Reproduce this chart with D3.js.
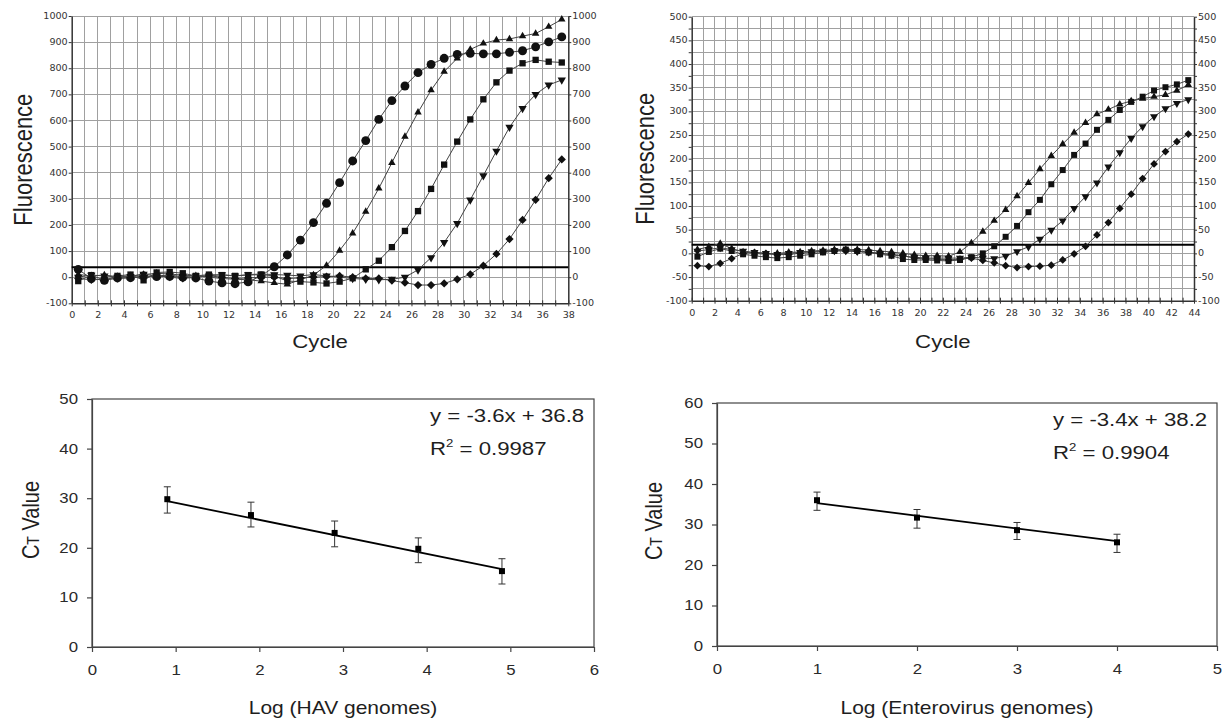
<!DOCTYPE html>
<html>
<head>
<meta charset="utf-8">
<script src="https://cdn.jsdelivr.net/npm/d3@7"></script>
<style>
  html, body { margin: 0; padding: 0; background: #fff; }
  svg { display: block; }
</style>
</head>
<body>
<svg id="fig" width="1223" height="719"></svg>
<script>
const SX = 1.2; // lettering in the source figure is stretched horizontally

// ---- panel A: HAV amplification curves ----
const cyclesA = d3.range(1, 39);
const havCircle = [30, -5, -12, -3, -2, 5, 2, 3, 0, -3, -15, -22, -25, -18, 5,
  40, 85, 142, 209, 283, 362, 445, 523, 604, 676, 732, 783, 815, 838, 853, 857, 855, 855, 861, 867, 882, 901, 920];
const havTriUp = [10, 5, 8, 2, 5, 10, 15, 12, 8, 5, 0, -5, -8, -10, -15, -22, -27, -10, 8,
  45, 102, 168, 251, 340, 438, 538, 631, 716, 787, 838, 872, 895, 908, 912, 923, 933, 959, 987];
const havSquare = [-15, 8, -12, 5, 10, -12, 18, 20, 15, 5, 10, 8, 5, 8, 10, 5, -15, -17, -20, -24, -17, -4,
  30, 63, 115, 177, 253, 338, 431, 519, 604, 681, 746, 791, 819, 832, 825, 822];
const havTriDown = [0, 8, 5, 0, 3, 12, 5, 8, 2, 5, 5, 10, 5, 10, 12, 10, 8, 5, 10, 5, 0, -5, -8, -10, -8,
  0, 28, 75, 133, 206, 296, 389, 483, 574, 646, 700, 736, 755];
const havDiamond = [-5, -10, -8, -5, -2, 0, 5, 0, -5, 0, 5, 0, -5, -3, 0, 0, -5, -3, 0, 2, 5, 0, -5, -5,
  -13, -21, -30, -30, -24, -8, 11, 44, 89, 146, 219, 296, 379, 451];
const ticksA = [-100, 0, 100, 200, 300, 400, 500, 600, 700, 800, 900, 1000];
const thresholdA = 38;

// ---- panel B: enterovirus amplification curves ----
const cyclesB = d3.range(1, 45);
const evTriUp = [8, 14, 21, 10, 3, 0, -2, 0, 2, 3, 5, 6, 8, 8, 8, 7, 5, 3, 0, -3, -5, -5, -6, 3,
  22, 46, 69, 92, 121, 149, 178, 206, 231, 255, 276, 294, 304, 315, 322, 327, 331, 335, 344, 356];
const evSquare = [-7, 3, 10, 5, -2, -5, -8, -10, -8, -5, -2, 2, 5, 8, 5, 2, -2, -5, -12, -14, -14, -15, -16, -14, -8,
  0, 15, 35, 58, 87, 113, 146, 176, 208, 232, 261, 282, 303, 320, 331, 344, 351, 357, 366];
const evTriDown = [5, 8, 12, 8, 5, 2, 0, -2, 0, 2, 4, 5, 6, 6, 4, 3, 0, -3, -6, -8, -10, -10, -10, -10, -8, -10,
  -11, -6, 4, 14, 30, 49, 69, 95, 120, 149, 183, 213, 243, 268, 289, 306, 317, 325];
const evDiamond = [-26, -28, -21, -11, 0, 2, 0, -3, -2, 0, 2, 4, 5, 5, 4, 2, 0, -2, -5, -10, -12, -12, -14, -12, -10, -15,
  -20, -26, -30, -28, -27, -25, -14, -1, 15, 39, 65, 95, 125, 158, 189, 215, 236, 252];
const ticksB = [-100, -75, -50, -25, 0, 25, 50, 75, 100, 125, 150, 175, 200, 225, 250, 275, 300, 325, 350, 375, 400, 425, 450, 475, 500];
const thresholdB = 18;

// ---- panel C: HAV standard curve ----
const logHav = [0.9, 1.9, 2.9, 3.9, 4.9];
const ctHav = [29.8, 26.6, 23.0, 19.8, 15.3];
const ctHavHi = [32.3, 29.2, 25.4, 22.0, 17.8];
const ctHavLo = [27.0, 24.2, 20.2, 17.0, 12.7];
const fitHav = [[0.9, 29.4], [4.9, 15.7]];
const eqHav = 'y = -3.6x + 36.8';
const r2Hav = '0.9987';

// ---- panel D: enterovirus standard curve ----
const logEv = [1, 2, 3, 4];
const ctEv = [36.0, 31.7, 28.6, 25.6];
const ctEvHi = [38.0, 33.7, 30.5, 27.6];
const ctEvLo = [33.5, 29.1, 26.3, 23.1];
const fitEv = [[1, 35.3], [4, 25.9]];
const eqEv = 'y = -3.4x + 38.2';
const r2Ev = '0.9904';

const svg = d3.select('#fig');

const MARKS = {
  circle:  { type: d3.symbolCircle,   rot: 0 },
  triUp:   { type: d3.symbolTriangle, rot: 0 },
  triDown: { type: d3.symbolTriangle, rot: 180 },
  square:  { type: d3.symbolSquare,   rot: 0 },
  diamond: { type: d3.symbolSquare,   rot: 45 },
};

function addLabel(parent, x, y, size, anchor, rotate) {
  return parent.append('text')
    .attr('transform', `translate(${x},${y}) scale(${SX},1)` + (rotate ? ' rotate(-90)' : ''))
    .attr('text-anchor', anchor)
    .attr('font-family', 'Liberation Sans, Arial, sans-serif')
    .attr('font-size', size)
    .attr('fill', '#1e1e1e');
}

function drawAmplification(p) {
  const n = p.cycles.length;
  const g = svg.append('g');
  const x = d3.scaleLinear().domain([0, n]).range([p.left, p.right]);
  const band = d3.scaleBand().domain(p.cycles).range([p.left, p.right]);
  const y = d3.scaleLinear().domain(d3.extent(p.yTicks)).range([p.bottom, p.top]);
  const cx = i => band(p.cycles[i]) + band.bandwidth() / 2;

  // grid
  const grid = g.append('g').attr('stroke', '#a0a0a0').attr('shape-rendering', 'crispEdges');
  grid.selectAll('line.v').data(d3.range(1, n)).join('line').attr('class', 'v')
    .attr('x1', x).attr('x2', x).attr('y1', p.top).attr('y2', p.bottom);
  grid.selectAll('line.h').data(p.yTicks.slice(1)).join('line').attr('class', 'h')
    .attr('x1', p.left).attr('x2', p.right).attr('y1', y).attr('y2', y);

  const fmt = d => d % p.labelStep ? '' : d;
  const tickFont = a => {
    a.attr('font-family', 'DejaVu Sans, Verdana, sans-serif').attr('font-size', 8);
    a.select('.domain').attr('stroke', '#333').attr('stroke-width', 1.5);
    a.selectAll('.tick line').attr('stroke', '#333');
    a.selectAll('.tick text').attr('fill', '#333');
  };

  const xa = g.append('g').attr('transform', `translate(0,${p.bottom})`)
    .call(d3.axisBottom(x).tickValues(d3.range(0, n + 1)).tickFormat(d => d % 2 ? '' : d)
      .tickSize(3).tickSizeOuter(0));
  xa.selectAll('.tick line').attr('y1', -3);
  xa.selectAll('.tick text').attr('y', 9.5).attr('transform', `scale(${SX},1)`);
  tickFont(xa);

  const yl = g.append('g').attr('transform', `translate(${p.left},0)`)
    .call(d3.axisLeft(y).tickValues(p.yTicks).tickFormat(fmt).tickSize(3).tickSizeOuter(0));
  yl.selectAll('.tick text').attr('x', -4 / SX).attr('transform', `scale(${SX},1)`);
  tickFont(yl);

  const yr = g.append('g').attr('transform', `translate(${p.right},0)`)
    .call(d3.axisRight(y).tickValues(p.yTicks).tickFormat(fmt).tickSize(3).tickSizeOuter(0));
  yr.selectAll('.tick text').attr('x', 4 / SX).attr('transform', `scale(${SX},1)`);
  tickFont(yr);

  // threshold
  g.append('line')
    .attr('x1', p.left).attr('x2', p.right)
    .attr('y1', y(p.threshold)).attr('y2', y(p.threshold))
    .attr('stroke', '#000').attr('stroke-width', 2);

  const line = d3.line().x((d, i) => cx(i)).y(d => y(d));
  for (const s of p.series) {
    const sg = g.append('g');
    sg.append('path').attr('d', line(s.values))
      .attr('fill', 'none').attr('stroke', '#444').attr('stroke-width', 1);
    const m = MARKS[s.mark];
    sg.selectAll('path.m').data(s.values).join('path').attr('class', 'm')
      .attr('d', d3.symbol().type(m.type).size(s.size))
      .attr('transform', (d, i) => `translate(${cx(i)},${y(d)}) rotate(${m.rot})`)
      .attr('fill', '#111');
  }

  addLabel(g, p.ylabX, (p.top + p.bottom) / 2, 22, 'middle', true).attr('dy', '0.35em').text('Fluorescence');
  addLabel(g, (p.left + p.right) / 2, 348, 18.5, 'middle').text('Cycle');
}

function drawCalibration(p) {
  const g = svg.append('g');
  const x = d3.scaleLinear().domain(p.xDomain).range([p.left, p.right]);
  const y = d3.scaleLinear().domain(p.yDomain).range([p.bottom, p.top]);

  g.append('rect')
    .attr('x', p.left).attr('y', p.top)
    .attr('width', p.right - p.left).attr('height', p.bottom - p.top)
    .attr('fill', 'none').attr('stroke', '#444').attr('stroke-width', 1.2);

  const style = a => {
    a.attr('font-family', 'Liberation Sans, Arial, sans-serif').attr('font-size', 14);
    a.select('.domain').attr('stroke', '#444').attr('stroke-width', 1.2);
    a.selectAll('.tick line').attr('stroke', '#444').attr('stroke-width', 1.2);
    a.selectAll('.tick text').attr('fill', '#2a2a2a');
  };
  const xa = g.append('g').attr('transform', `translate(0,${p.bottom})`)
    .call(d3.axisBottom(x).ticks(p.xDomain[1]).tickFormat(d3.format('d')).tickSize(5).tickPadding(13).tickSizeOuter(0));
  xa.selectAll('.tick text').attr('transform', `scale(${SX},1)`);
  style(xa);
  const ya = g.append('g').attr('transform', `translate(${p.left},0)`)
    .call(d3.axisLeft(y).tickValues(p.yTicks).tickSize(5).tickSizeOuter(0));
  ya.selectAll('.tick text').attr('x', -14 / SX).attr('transform', `scale(${SX},1)`);
  style(ya);

  // regression line
  g.append('line')
    .attr('x1', x(p.fit[0][0])).attr('y1', y(p.fit[0][1]))
    .attr('x2', x(p.fit[1][0])).attr('y2', y(p.fit[1][1]))
    .attr('stroke', '#000').attr('stroke-width', 1.8);

  // error bars
  const eb = g.append('g').attr('stroke', '#333').attr('stroke-width', 1);
  p.xs.forEach((v, i) => {
    eb.append('line').attr('x1', x(v)).attr('x2', x(v)).attr('y1', y(p.lo[i])).attr('y2', y(p.hi[i]));
    eb.append('line').attr('x1', x(v) - 3.5).attr('x2', x(v) + 3.5).attr('y1', y(p.lo[i])).attr('y2', y(p.lo[i]));
    eb.append('line').attr('x1', x(v) - 3.5).attr('x2', x(v) + 3.5).attr('y1', y(p.hi[i])).attr('y2', y(p.hi[i]));
  });

  g.selectAll('path.pt').data(p.ys).join('path').attr('class', 'pt')
    .attr('d', d3.symbol().type(d3.symbolSquare).size(36))
    .attr('transform', (d, i) => `translate(${x(p.xs[i])},${y(d)})`)
    .attr('fill', '#000');

  addLabel(g, p.eqX, p.eqY, 18.5, 'start').text(p.eq);
  const r2 = addLabel(g, p.eqX, p.eqY + 33, 18.5, 'start');
  r2.append('tspan').text('R');
  r2.append('tspan').attr('font-size', 11).attr('dy', -8).text('2');
  r2.append('tspan').attr('dy', 8).text(' = ' + p.r2);

  const ct = addLabel(g, p.ylabX, p.ylabY, 20, 'middle', true).attr('dy', '0.35em');
  ct.append('tspan').text('C');
  ct.append('tspan').attr('font-size', 14).text('T');
  ct.append('tspan').text(' Value');

  addLabel(g, (p.left + p.right) / 2, 714, 17.5, 'middle').text(p.xTitle);
}

drawAmplification({
  cycles: cyclesA, yTicks: ticksA, labelStep: 100, threshold: thresholdA,
  left: 71.7, right: 568.3, top: 16, bottom: 303.3, ylabX: 23,
  series: [
    { values: havCircle,  mark: 'circle',  size: 62 },
    { values: havTriUp,   mark: 'triUp',   size: 24 },
    { values: havSquare,  mark: 'square',  size: 40 },
    { values: havTriDown, mark: 'triDown', size: 30 },
    { values: havDiamond, mark: 'diamond', size: 34 },
  ],
});

drawAmplification({
  cycles: cyclesB, yTicks: ticksB, labelStep: 50, threshold: thresholdB,
  left: 691.7, right: 1194, top: 16.7, bottom: 300.7, ylabX: 645,
  series: [
    { values: evTriUp,   mark: 'triUp',   size: 24 },
    { values: evSquare,  mark: 'square',  size: 36 },
    { values: evTriDown, mark: 'triDown', size: 28 },
    { values: evDiamond, mark: 'diamond', size: 30 },
  ],
});

drawCalibration({
  xs: logHav, ys: ctHav, hi: ctHavHi, lo: ctHavLo, fit: fitHav, eq: eqHav, r2: r2Hav,
  xDomain: [0, 6], yDomain: [0, 50], yTicks: [0, 10, 20, 30, 40, 50],
  left: 92, right: 594, top: 399, bottom: 647,
  eqX: 430, eqY: 422, ylabX: 31, ylabY: 520, xTitle: 'Log (HAV genomes)',
});

drawCalibration({
  xs: logEv, ys: ctEv, hi: ctEvHi, lo: ctEvLo, fit: fitEv, eq: eqEv, r2: r2Ev,
  xDomain: [0, 5], yDomain: [0, 60], yTicks: [0, 10, 20, 30, 40, 50, 60],
  left: 717, right: 1217, top: 403, bottom: 646,
  eqX: 1053, eqY: 426, ylabX: 654, ylabY: 521, xTitle: 'Log (Enterovirus genomes)',
});
</script>
</body>
</html>
